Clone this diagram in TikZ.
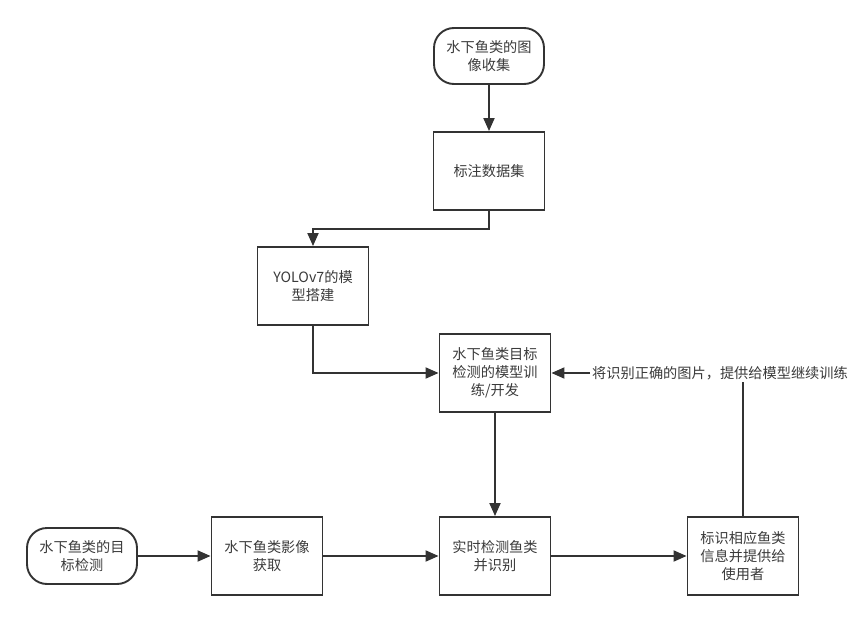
\documentclass[tikz,border=0pt]{standalone}
\usepackage{fontspec}
\setmainfont{Noto Sans CJK SC}
\usetikzlibrary{arrows.meta}
\definecolor{ink}{HTML}{333333}
\definecolor{txt}{HTML}{3A3A3A}
\tikzset{
  box/.style={draw=ink, line width=1.9pt, minimum width=111pt, minimum height=78pt, align=center, text=txt, font=\fontsize{14.2}{17.8}\selectfont, inner sep=2pt},
  term/.style={box, rounded corners=20pt, minimum width=110pt, minimum height=56pt},
  conn/.style={draw=ink, line width=1.9pt, -{Triangle[length=13pt,width=11pt]}},
  plain/.style={draw=ink, line width=1.9pt}
}
\begin{document}
\begin{tikzpicture}[x=1pt,y=-1pt]
\useasboundingbox (0,0) rectangle (865,623);
\node[term] (b1) at (489,56) {水下鱼类的图\\像收集};
\node[box] (b2) at (489,171) {标注数据集};
\node[box] (b3) at (313,286) {YOLOv7的模\\型搭建};
\node[box] (b4) at (495,373) {水下鱼类目标\\检测的模型训\\练/开发};
\node[term] (b5) at (82,556) {水下鱼类的目\\标检测};
\node[box] (b6) at (267,556) {水下鱼类影像\\获取};
\node[box] (b7) at (495,556) {实时检测鱼类\\并识别};
\node[box] (b8) at (743,556) {标识相应鱼类\\信息并提供给\\使用者};
\node[text=txt, font=\fontsize{14.2}{17}\selectfont, inner sep=2pt] (lbl) at (720,373) {将识别正确的图片，提供给模型继续训练};
\coordinate (k1) at (489,229);
\draw[conn] (b1) -- (b2);
\draw[conn] (b2.south) -- (k1) -| (b3.north);
\draw[conn] (b3.south) |- (b4.west);
\draw[conn] (b4.south) -- (b7.north);
\draw[conn] (b5) -- (b6);
\draw[conn] (b6) -- (b7);
\draw[conn] (b7) -- (b8);
\draw[plain] (b8.north) -- (b8.north |- lbl.south);
\draw[conn] (lbl.west) -- (b4.east);
\end{tikzpicture}
\end{document}
